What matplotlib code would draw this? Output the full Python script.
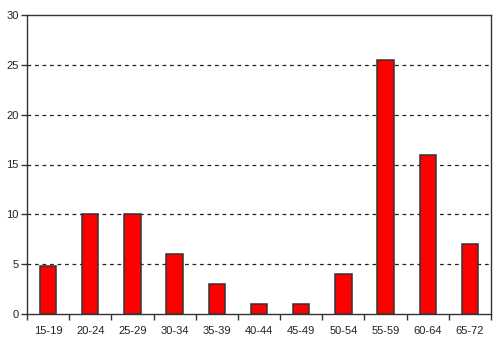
import matplotlib
matplotlib.use("Agg")
import matplotlib.pyplot as plt
import numpy as np

age_groups = ["15-19", "20-24", "25-29", "30-34", "35-39", "40-44",
              "45-49", "50-54", "55-59", "60-64", "65-72"]
values = [4.8, 10, 10, 6, 3, 1, 1, 4, 25.5, 16, 7]
y_ticks = [0, 5, 10, 15, 20, 25, 30]

plt.rcParams["font.family"] = ["Liberation Sans", "DejaVu Sans"]

fig = plt.figure(figsize=(4.96, 3.56), dpi=100)
ax = fig.add_axes([27 / 496, 42 / 356, 464 / 496, 299 / 356])

x = np.arange(len(age_groups))
ax.bar(x, values, width=0.39, color="#ff0000", edgecolor="#333333", linewidth=1.1, zorder=3)

ax.set_xlim(-0.5, len(age_groups) - 0.5)
ax.set_ylim(0, 30)
ax.set_yticks(y_ticks)
ax.set_yticklabels([str(t) for t in y_ticks], fontsize=8, color="#222222")
for t in y_ticks[1:-1]:
    ax.axhline(t, color="#222222", linestyle=(0, (3, 3)), linewidth=0.9, zorder=1)

# category labels centered, ticks at category boundaries
ax.set_xticks(x)
ax.set_xticklabels(age_groups, fontsize=8, color="#222222")
ax.tick_params(axis="x", length=0, pad=9)
ax.set_xticks(np.arange(-0.5, len(age_groups)), minor=True)
ax.tick_params(axis="x", which="minor", length=4, width=1, color="#333333")
ax.tick_params(axis="y", length=4, width=1, color="#333333", pad=2)

for s in ax.spines.values():
    s.set_color("#333333")
    s.set_linewidth(1)

fig.savefig("out.png", dpi=100)
